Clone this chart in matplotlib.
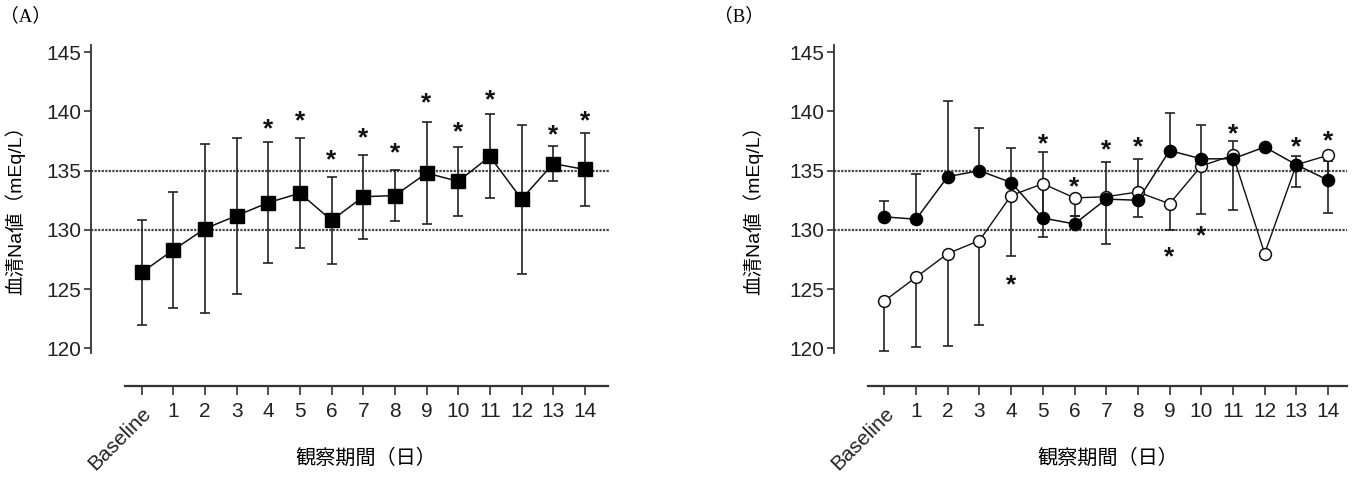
import matplotlib
matplotlib.use('Agg')
import matplotlib.pyplot as plt
import matplotlib.transforms as mtransforms
import numpy as np

plt.rcParams['font.family'] = ['Liberation Sans', 'Noto Sans CJK JP']
tick_font = ['Liberation Sans Narrow', 'Liberation Sans', 'DejaVu Sans']

days = ['Baseline', '1', '2', '3', '4', '5', '6', '7', '8', '9', '10', '11', '12', '13', '14']

# panel A
a_mean = [126.4, 128.3, 130.1, 131.2, 132.3, 133.1, 130.8, 132.8, 132.9, 134.8, 134.1, 136.2, 132.6, 135.6, 135.1]
a_sd = [4.4, 4.9, 7.15, 6.6, 5.1, 4.65, 3.7, 3.55, 2.15, 4.3, 2.9, 3.55, 6.3, 1.5, 3.1]
a_star_x = [4, 5, 6, 7, 8, 9, 10, 11, 13, 14]
a_star_y = [139.1, 139.8, 136.5, 138.4, 137.1, 141.3, 138.9, 141.6, 138.6, 139.8]

# panel B  (filled = upper error only, open = lower error only)
b_fill = [131.1, 130.9, 134.5, 135.0, 134.0, 131.0, 130.5, 132.6, 132.5, 136.7, 136.0, 136.0, 137.0, 135.5, 134.2]
b_fill_up = [1.3, 3.8, 6.4, 3.6, 2.9, 5.6, 0.7, 3.1, 3.5, 3.2, 2.9, 1.5, 0.0, 0.7, 1.6]
b_open = [124.0, 126.0, 128.0, 129.1, 132.9, 133.9, 132.7, 132.8, 133.2, 132.2, 135.4, 136.3, 128.0, 135.5, 136.3]
b_open_dn = [4.2, 5.9, 7.8, 7.1, 5.1, 4.5, 1.5, 4.0, 2.1, 2.2, 4.1, 4.6, 0.0, 1.9, 4.9]
b_star_x = [4, 5, 6, 7, 8, 9, 10, 11, 13, 14]
b_star_y = [126.0, 137.9, 134.2, 137.4, 137.6, 128.35, 130.1, 138.7, 137.6, 138.1]

ref_lines = [130, 135]

fig = plt.figure(figsize=(13.53, 4.9), dpi=100)
axA = fig.add_axes([0.067, 0.2129, 0.384, 0.6949])
axB = fig.add_axes([0.6164, 0.2129, 0.3792, 0.6949])

x = np.arange(len(days))


def style_axis(ax, xr):
    ax.set_xlim(xr[0], xr[1])
    ax.set_ylim(116.84, 145.6)
    for s in ['top', 'right']:
        ax.spines[s].set_visible(False)
    ax.spines['left'].set_bounds(119.6, 145.6)
    ax.spines['bottom'].set_bounds(-0.52, xr[2])
    ax.spines['left'].set_linewidth(1.3)
    ax.spines['bottom'].set_linewidth(1.6)
    ax.spines['left'].set_color('#333333')
    ax.spines['bottom'].set_color('#333333')
    ax.set_yticks([120, 125, 130, 135, 140, 145])
    ax.set_xticks(x)
    ax.set_xticklabels(days)
    ax.tick_params(axis='y', length=5, width=1.2, pad=2, labelsize=15, color='#333333', labelcolor='#222222')
    ax.tick_params(axis='x', length=6.5, width=1.2, pad=5, labelsize=15, color='#333333', labelcolor='#222222')
    for lab in ax.get_xticklabels() + ax.get_yticklabels():
        lab.set_family(tick_font)
    lab = ax.get_xticklabels()[0]
    lab.set_rotation(45)
    lab.set_ha('right')
    lab.set_va('top')
    lab.set_transform(lab.get_transform() + mtransforms.ScaledTranslation(13 / 100, -2 / 100, fig.dpi_scale_trans))
    for r in ref_lines:
        ax.axhline(r, color='#444444', lw=1.6, ls=(0, (1, 0.6)), zorder=1)
    ax.set_ylabel('血清Na値（mEq/L）', fontsize=14)
    ax.set_xlabel('観察期間（日）', fontsize=14.5)
    ax.yaxis.label.set_va('center')
    ax.xaxis.label.set_va('top')


style_axis(axA, (-1.61, 14.8, 14.72))
style_axis(axB, (-1.59, 14.6, 14.6))

axA.yaxis.set_label_coords(-0.146, 0.53)
axA.xaxis.set_label_coords(0.53, -0.185)
axB.yaxis.set_label_coords(-0.158, 0.53)
axB.xaxis.set_label_coords(0.534, -0.185)

# panel A data
axA.errorbar(x, a_mean, yerr=a_sd, fmt='none', ecolor='#222222', elinewidth=1.2, capsize=3.6, capthick=1.2, zorder=2)
axA.plot(x, a_mean, color='#111111', lw=1.1, marker='s', ms=9.5, mfc='black', mec='black', zorder=3)
for sx, sy in zip(a_star_x, a_star_y):
    axA.annotate('*', (sx, sy), xytext=(0, -5.5), textcoords='offset points', ha='center', va='center',
                 fontsize=19, fontweight='bold', color='#111111')

# panel B data
axB.errorbar(x, b_open, yerr=[b_open_dn, np.zeros(len(x))], fmt='none', ecolor='#222222', elinewidth=1.2, capsize=3.6, capthick=1.2, zorder=2)
axB.errorbar(x, b_fill, yerr=[np.zeros(len(x)), b_fill_up], fmt='none', ecolor='#222222', elinewidth=1.2, capsize=3.6, capthick=1.2, zorder=2)
axB.plot(x, b_open, color='#111111', lw=1.0, marker='o', ms=8.5, mfc='white', mec='#111111', mew=1.1, zorder=3)
axB.plot(x, b_fill, color='#111111', lw=1.1, marker='o', ms=8.8, mfc='black', mec='black', zorder=4)
for sx, sy in zip(b_star_x, b_star_y):
    axB.annotate('*', (sx, sy), xytext=(0, -5.5), textcoords='offset points', ha='center', va='center',
                 fontsize=19, fontweight='bold', color='#111111', zorder=5)

# panel letters
fig.text(0.0, 1 - 16 / 490, '（A）', fontsize=13.5, va='center', ha='left', family=['Liberation Serif', 'Noto Sans CJK JP'])
fig.text(714 / 1353, 1 - 16 / 490, '（B）', fontsize=13.5, va='center', ha='left', family=['Liberation Serif', 'Noto Sans CJK JP'])

fig.savefig('out.png', dpi=100)
